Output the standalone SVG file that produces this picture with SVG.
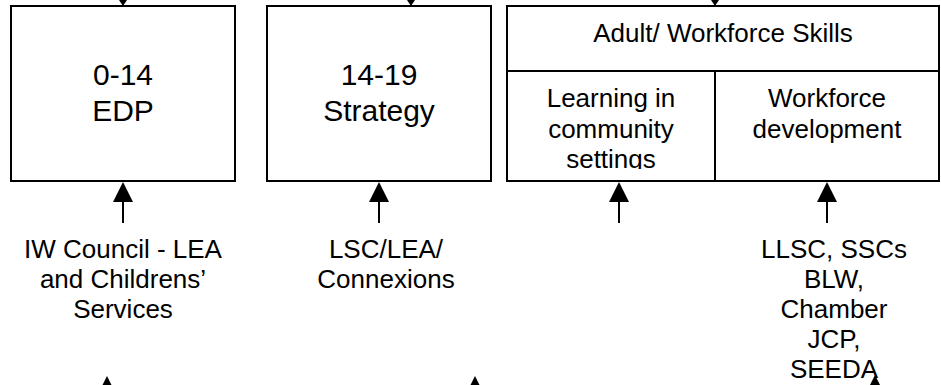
<svg xmlns="http://www.w3.org/2000/svg" width="941" height="385" viewBox="0 0 941 385">
<style>
.box{fill:#fff;stroke:#000;stroke-width:2}
.div{stroke:#000;stroke-width:2;fill:none}
.big{font-family:"Liberation Sans",Arial,sans-serif;font-size:30px;fill:#000;text-anchor:middle}
.txt{font-family:"Liberation Sans",Arial,sans-serif;font-size:26px;fill:#000;text-anchor:middle}
.conn line{stroke:#000;stroke-width:2}
.head{fill:#000}
</style>
<defs>
<clipPath id="clip3"><rect x="508" y="72" width="206" height="97"/></clipPath>
</defs>
<g id="node-edp">
<rect class="box" x="11" y="6" width="224" height="175"/>
<text class="big" x="123" y="85">0-14</text>
<text class="big" x="123" y="121">EDP</text>
</g>
<g id="node-1419">
<rect class="box" x="267" y="6" width="224" height="175"/>
<text class="big" x="379" y="85">14-19</text>
<text class="big" x="379" y="121">Strategy</text>
</g>
<g id="node-adult">
<rect class="box" x="507" y="6" width="432" height="175"/>
<line class="div" x1="507" y1="71" x2="939" y2="71"/>
<line class="div" x1="715" y1="71" x2="715" y2="181"/>
<text class="txt" x="723" y="42">Adult/ Workforce Skills</text>
<g clip-path="url(#clip3)">
<text class="txt" x="611" y="107">Learning in</text>
<text class="txt" x="611" y="137.5">community</text>
<text class="txt" x="611" y="168">settings</text>
</g>
<text class="txt" x="827" y="107">Workforce</text>
<text class="txt" x="827" y="137.5">development</text>
</g>
<g id="label-iw">
<text class="txt" x="123" y="257.5">IW Council - LEA</text>
<text class="txt" x="123" y="288">and Childrens’</text>
<text class="txt" x="123" y="318">Services</text>
</g>
<g id="label-lsc">
<text class="txt" x="386" y="257.5">LSC/LEA/</text>
<text class="txt" x="386" y="288">Connexions</text>
</g>
<g id="label-llsc">
<text class="txt" x="834" y="257.5">LLSC, SSCs</text>
<text class="txt" x="834" y="288">BLW,</text>
<text class="txt" x="834" y="318">Chamber</text>
<text class="txt" x="834" y="348">JCP,</text>
<text class="txt" x="834" y="378">SEEDA</text>
</g>
<g id="connectors" class="conn">
<polygon class="head" points="119,0 127,0 123,6"/>
<polygon class="head" points="407,0 415,0 411,6"/>
<polygon class="head" points="711,0 719,0 715,6"/>
<line x1="123" y1="201" x2="123" y2="223"/>
<polygon class="head" points="123,182 113,202 133,202"/>
<line x1="379" y1="201" x2="379" y2="223"/>
<polygon class="head" points="379,182 369,202 389,202"/>
<line x1="619" y1="201" x2="619" y2="223"/>
<polygon class="head" points="619,182 609,202 629,202"/>
<line x1="827" y1="201" x2="827" y2="223"/>
<polygon class="head" points="827,182 817,202 837,202"/>
<polygon class="head" points="107,376 97,396 117,396"/>
<polygon class="head" points="475,376 465,396 485,396"/>
<polygon class="head" points="875,375 865,395 885,395"/>
</g>
</svg>
